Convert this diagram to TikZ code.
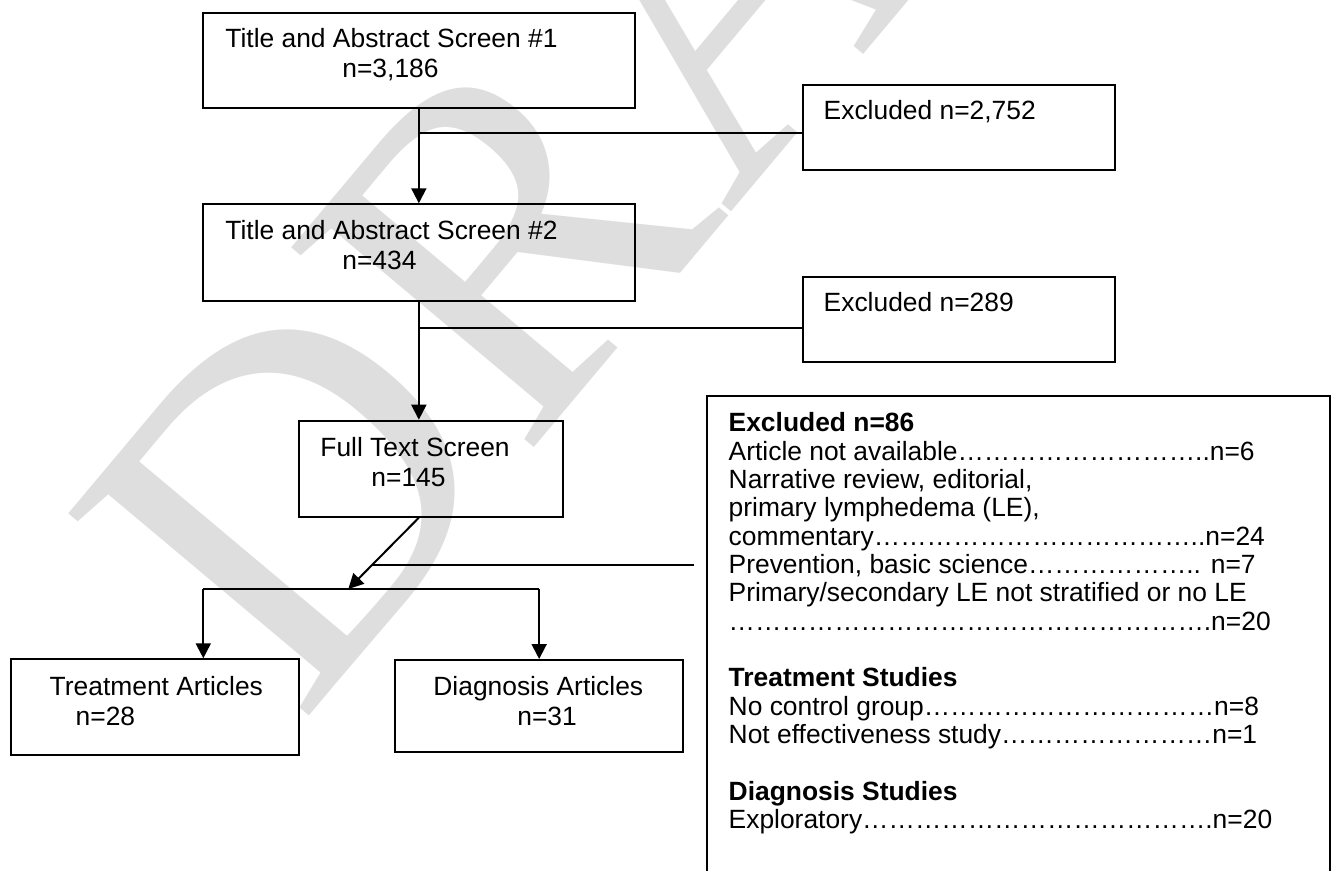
\documentclass[tikz,border=0pt]{standalone}
\usepackage{fontspec}
\setmainfont{Liberation Sans}
\newfontfamily\draftfont{Liberation Serif}
\usetikzlibrary{arrows.meta,fit}
\newcommand\ldr[1]{\foreach\k in {1,...,#1}{…}}

\tikzset{
  box/.style={draw, line width=1pt, inner sep=0pt},
  txt/.style={anchor=base west, inner sep=0pt, align=left, font=\fontsize{13.2}{15}\selectfont},
  link/.style={line width=1pt},
  flow/.style={line width=1pt, -{Triangle[length=7.5pt,width=7.5pt]}},
}

\begin{document}
\begin{tikzpicture}[x=0.5pt,y=-0.5pt]
  \useasboundingbox (0,0) rectangle (1334,871);
  % watermark
  \node[text=black!13, rotate=50, inner sep=0pt, font=\fontsize{240}{240}\draftfont] (wm) at (685,22) {DRAFT};

  % boxes
  \node[box, fit={(202.7,12.7) (635,108.3)}] (scr1) {};
  \node[box, fit={(202.7,204.3) (635,301)}] (scr2) {};
  \node[box, fit={(802.7,84.7) (1115,170)}] (exc1) {};
  \node[box, fit={(802.7,276.7) (1115,362)}] (exc2) {};
  \node[box, fit={(299,420.7) (563.3,516.7)}] (full) {};
  \node[box, fit={(11,659.3) (299,755)}] (treat) {};
  \node[box, fit={(395,660) (683.3,752)}] (diag) {};
  \node[box, fit={(707,396) (1330,900)}] (exc3) {};

  % texts (base = last line)
  \node[txt] (scr1t) at (225,78) {Title and Abstract Screen \#1\\\hspace*{58.5pt}n=3,186};
  \node[txt] (scr2t) at (225,270) {Title and Abstract Screen \#2\\\hspace*{58.5pt}n=434};
  \node[txt] (exc1t) at (823.3,120) {Excluded n=2,752};
  \node[txt] (exc2t) at (823.3,311.7) {Excluded n=289};
  \node[txt] (fullt) at (320,486.7) {Full Text Screen\\\hspace*{25.5pt}n=145};
  \node[txt] (treatt) at (49.3,725) {Treatment Articles\\\hspace*{13pt}n=28};
  \node[txt] (diagt) at (433,725) {Diagnosis Articles\\\hspace*{42pt}n=31};
  \node[txt, font=\fontsize{13.2}{14.17}\selectfont] (exc3t) at (728.3,828.5) {\textbf{Excluded n=86}\\
    Article not available\ldr{9}..n=6\\
    Narrative review, editorial,\\
    primary lymphedema (LE),\\
    commentary\ldr{12}..n=24\\
    Prevention, basic science\ldr{6}.. n=7\\
    Primary/secondary LE not stratified or no LE\\
    \ldr{18}.n=20\\[14.17pt]
    \textbf{Treatment Studies}\\
    No control group\ldr{11}n=8\\
    Not effectiveness study\ldr{8}n=1\\[14.17pt]
    \textbf{Diagnosis Studies}\\
    Exploratory\ldr{13}.n=20};

  % connectors
  \draw[flow] (scr1.south) -- (scr2.north);
  \coordinate (b1) at (419,132.7);
  \draw[link] (b1) -- (b1 -| exc1.west);
  \draw[flow] (scr2.south) -- (scr2.south |- full.north);
  \coordinate (b2) at (419,328);
  \draw[link] (b2) -- (b2 -| exc2.west);
  \coordinate (split) at (348.3,589);
  \draw[flow] (scr2.south |- full.south) -- coordinate[pos=.663] (b3) (split);
  \coordinate (b3e) at (694,564);
  \draw[link] (b3) -- (b3 -| b3e);
  \coordinate (tl) at (203.3,589);
  \draw[link] (tl) -- (tl -| diag.north);
  \draw[flow] (tl) -- (tl |- treat.north);
  \draw[flow] (tl -| diag.north) -- (diag.north);
\end{tikzpicture}
\end{document}
